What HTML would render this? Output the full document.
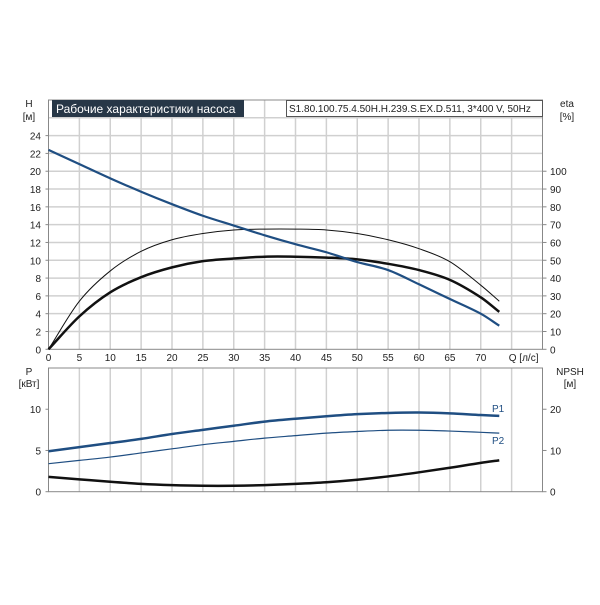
<!DOCTYPE html>
<html><head><meta charset="utf-8"><style>
body{margin:0;background:#fff;width:600px;height:600px;overflow:hidden}
svg text{font-family:"Liberation Sans",sans-serif;font-size:10px;fill:#222}
</style></head><body>
<svg id="chart" width="600" height="600" xmlns="http://www.w3.org/2000/svg">
<g id="g"></g>
</svg>
<script>
const qValues=[0,5,10,15,20,25,30,35,40,45,50,55,60,65,70,73];
const headValues=[22.4,20.8,19.2,17.7,16.3,15.0,13.9,12.8,11.8,10.9,9.8,8.9,7.3,5.65,4.0,2.65];
const etaPumpValues=[0,27,44,55,61.5,65,67,67.5,67.5,67,65,61.5,56.5,49.2,36,27];
const etaTotalValues=[0,18.5,32,40.5,46,49.5,51,52,52,51.5,50.5,48,44.5,39,29.2,21];
const p1Values=[4.9,5.4,5.9,6.4,7.0,7.5,8.0,8.5,8.85,9.15,9.4,9.55,9.6,9.5,9.3,9.2];
const p2Values=[3.4,3.8,4.2,4.7,5.2,5.7,6.1,6.5,6.8,7.1,7.3,7.45,7.45,7.35,7.2,7.1];
const npshValues=[3.6,3.0,2.4,1.9,1.6,1.44,1.44,1.6,1.9,2.3,2.9,3.7,4.7,5.8,7.0,7.6];
const qTicks=[0,5,10,15,20,25,30,35,40,45,50,55,60,65,70];
const hTicks=[0,2,4,6,8,10,12,14,16,18,20,22,24];
const etaTicks=[0,10,20,30,40,50,60,70,80,90,100];
const pTicks=[0,5,10];
const npshTicks=[0,10,20];

const NS="http://www.w3.org/2000/svg";
const g=document.getElementById('g');
function el(tag,attrs,txt){const e=document.createElementNS(NS,tag);for(const k in attrs)e.setAttribute(k,attrs[k]);if(txt!==undefined)e.textContent=txt;g.appendChild(e);return e;}
const X0=48.5,X1=542.5;
const x=q=>X0+(X1-X0)*q/80;
const T0=100,TB=349.3;
const yH=h=>TB-(TB-T0)*h/28;
const yEta=e=>yH(e/5);
const B0=368,BB=491.7;
const yP=p=>BB-(BB-B0)*p/15;
const yN=n=>yP(n/2);

for(let q=5;q<80;q+=5){const l=el('line',{x1:x(q),x2:x(q),y1:T0,y2:TB,stroke:'#d0d0d0','stroke-width':1.5});
}
for(let h=2;h<28;h+=2){const l=el('line',{x1:X0,x2:X1,y1:yH(h),y2:yH(h),stroke:'#d0d0d0','stroke-width':1.5});
}
for(let q=5;q<80;q+=5){const l=el('line',{x1:x(q),x2:x(q),y1:B0,y2:BB,stroke:'#d0d0d0','stroke-width':1.5});
}
let f=el('rect',{x:X0,y:T0,width:X1-X0,height:TB-T0,fill:'none',stroke:'#888','stroke-width':1});

f=el('rect',{x:X0,y:B0,width:X1-X0,height:BB-B0,fill:'none',stroke:'#888','stroke-width':1});

qTicks.forEach(q=>{const t=el('text',{x:x(q),y:361,'text-anchor':'middle'},q);
});
let t=el('text',{x:x(75)+12,y:361,'text-anchor':'middle'},'Q [л/с]');
hTicks.forEach(h=>{const t=el('text',{x:41,y:yH(h)+4,'text-anchor':'end'},h);

el('line',{x1:X0-3,x2:X0,y1:yH(h),y2:yH(h),stroke:'#888'});});
etaTicks.forEach(e=>{const t=el('text',{x:550,y:yEta(e)+4},e);

el('line',{x1:X1,x2:X1+4,y1:yEta(e),y2:yEta(e),stroke:'#888'});});
pTicks.forEach(p=>{const t=el('text',{x:41,y:yP(p)+4,'text-anchor':'end'},p);

el('line',{x1:X0-3,x2:X0,y1:yP(p),y2:yP(p),stroke:'#888'});});
npshTicks.forEach(n=>{const t=el('text',{x:550,y:yN(n)+4},n);

el('line',{x1:X1,x2:X1+4,y1:yN(n),y2:yN(n),stroke:'#888'});});
[['H',29,107,'middle','h-axis-title'],['[м]',29,120,'middle','h-axis-unit'],['eta',567,107,'middle','eta-axis-title'],['[%]',567,120,'middle','eta-axis-unit'],
 ['P',29,375,'middle','p-axis-title'],['[кВт]',29,387,'middle','p-axis-unit'],['NPSH',570,375,'middle','npsh-axis-title'],['[м]',570,387,'middle','npsh-axis-unit']].forEach(a=>{
 const t=el('text',{x:a[1],y:a[2],'text-anchor':a[3]},a[0]);});
let r=el('rect',{x:52,y:100,width:192,height:17,fill:'#273747'});
t=el('text',{x:56,y:113,style:'fill:#fff;font-size:12px'},'Рабочие характеристики насоса');
r=el('rect',{x:286.5,y:100.5,width:256,height:16,fill:'#fff',stroke:'#555'});
t=el('text',{x:289,y:112,style:'font-size:10px'},'S1.80.100.75.4.50H.H.239.S.EX.D.511, 3*400 V, 50Hz');
function curve(vals,yf,color,w,name){
 const pts=qValues.map((q,i)=>[x(q),yf(vals[i])]);
 let d='M'+pts[0][0]+','+pts[0][1];
 for(let i=0;i<pts.length-1;i++){const p0=pts[Math.max(0,i-1)],p1=pts[i],p2=pts[i+1],p3=pts[Math.min(pts.length-1,i+2)];
  const h=p2[0]-p1[0];
  const s1=(p2[1]-p0[1])/(p2[0]-p0[0]||1), s2=(p3[1]-p1[1])/(p3[0]-p1[0]||1);
  d+=' C'+(p1[0]+h/3)+','+(p1[1]+s1*h/3)+' '+(p2[0]-h/3)+','+(p2[1]-s2*h/3)+' '+p2[0]+','+p2[1];}
 const p=el('path',{d:d,fill:'none',stroke:color,'stroke-width':w});
 }
curve(etaPumpValues,yEta,'#111',1,'eta-pump-curve');
curve(etaTotalValues,yEta,'#111',2.5,'eta-total-curve');
curve(headValues,yH,'#1f4e82',2.2,'head-curve');
curve(p1Values,yP,'#1f4e82',2.5,'p1-curve');
curve(p2Values,yP,'#1f4e82',1.2,'p2-curve');
curve(npshValues,yN,'#111',2.5,'npsh-curve');
t=el('text',{x:492,y:yP(p1Values[15])-4,style:'fill:#1f4e82'},'P1');
t=el('text',{x:492,y:yP(p2Values[15])+11,style:'fill:#1f4e82'},'P2');
</script>
</body></html>
